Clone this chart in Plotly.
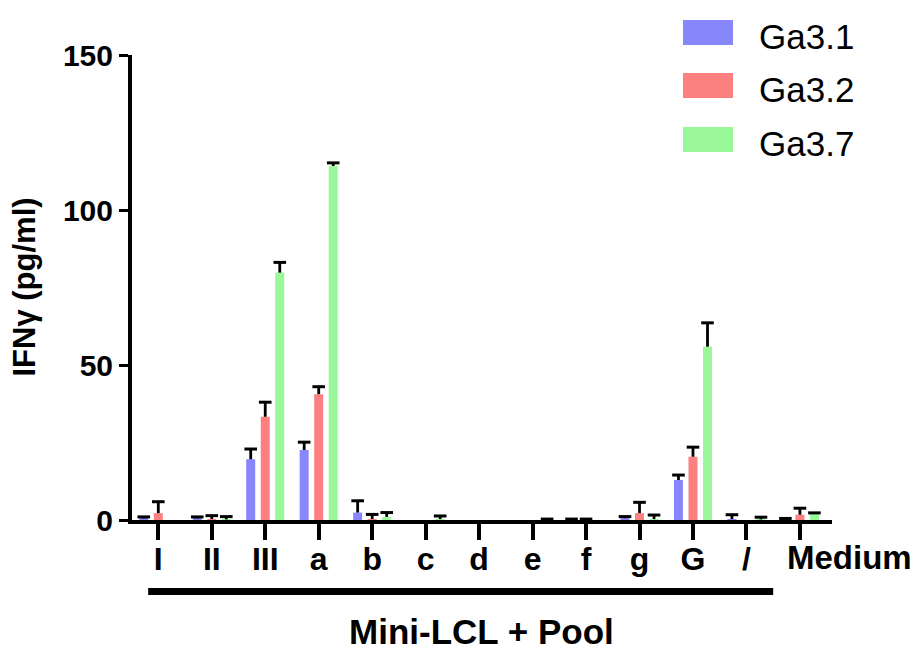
import plotly.graph_objects as go

# Stimulus conditions on the x axis
categories = ["I", "II", "III", "a", "b", "c", "d", "e", "f", "g", "G", "/", "Medium"]

# IFN-gamma release (pg/ml), mean and upper error (SEM) per T-cell clone
ga31 = [0.5, 0.5, 19.6, 22.6, 2.4, 0.0, 0.0, 0.0, 0.1, 0.6, 12.9, 0.3, 0.2]
ga31_err = [0.5, 0.5, 3.3, 2.5, 3.8, None, None, None, 0.2, 0.5, 1.6, 1.4, 0.3]

ga32 = [2.2, 0.3, 33.3, 40.6, 0.3, 0.0, 0.0, 0.0, 0.1, 2.2, 20.4, 0.0, 1.7]
ga32_err = [3.7, 1.1, 4.7, 2.4, 1.5, None, None, None, 0.2, 3.5, 3.1, None, 2.1]

ga37 = [0.0, 0.2, 79.8, 114.2, 1.0, 0.3, 0.0, 0.1, 0.0, 0.3, 55.9, 0.2, 2.0]
ga37_err = [None, 0.9, 3.3, 1.0, 1.4, 1.0, None, 0.2, None, 1.3, 7.7, 0.7, 0.3]

series_names = ["Ga3.1", "Ga3.2", "Ga3.7"]
series_values = [ga31, ga32, ga37]
series_errors = [ga31_err, ga32_err, ga37_err]
series_colors = ["#8787FB", "#FC8080", "#9AF89A"]

y_ticks = [0, 50, 100, 150]
group_label = "Mini-LCL + Pool"
y_label = "IFNγ (pg/ml)"

FONT = "Liberation Sans, Arial, sans-serif"
BAR_GAP = 0.185
x_pos = list(range(len(categories)))

fig = go.Figure()
for k, (name, vals, col) in enumerate(zip(series_names, series_values, series_colors)):
    fig.add_trace(go.Bar(
        x=x_pos, y=vals, name=name, offsetgroup=str(k),
        marker=dict(color=col, line=dict(width=0)),
        showlegend=False,
    ))

# Upper-only error bars: a stem down to the bar top plus a cap marker at mean + SEM
for k, (name, vals, errs) in enumerate(zip(series_names, series_values, series_errors)):
    tops = [v + e if e is not None else None for v, e in zip(vals, errs)]
    stems = [e if e is not None else 0 for e in errs]
    fig.add_trace(go.Scatter(
        x=x_pos, y=tops, mode="markers", offsetgroup=str(k),
        marker=dict(symbol="line-ew", size=9, color="black",
                    line=dict(color="black", width=3)),
        error_y=dict(type="data", symmetric=False, array=[0] * len(stems),
                     arrayminus=stems, color="black", thickness=2.8, width=0),
        showlegend=False, hoverinfo="skip",
    ))

# Tick labels: all but the last come from the axis; "Medium" is set off to the right
ticktext = [c if c != "Medium" else "" for c in categories]

fig.update_layout(
    width=914, height=653,
    margin=dict(l=132, r=82, t=55, b=133),
    paper_bgcolor="white", plot_bgcolor="white",
    barmode="group", bargap=BAR_GAP, bargroupgap=0.38,
    scattermode="group", scattergap=BAR_GAP,
    font=dict(family=FONT, color="black"),
    xaxis=dict(
        range=[-0.492, 12.6], tickvals=x_pos, ticktext=ticktext,
        showline=True, linecolor="black", linewidth=4,
        ticks="outside", ticklen=16, tickwidth=4, tickcolor="black",
        ticklabelstandoff=-8,
        tickfont=dict(size=32, family=FONT, weight="bold", color="black"),
        showgrid=False, zeroline=False,
    ),
    yaxis=dict(
        range=[0, 150], tickvals=y_ticks,
        showline=True, linecolor="black", linewidth=4,
        ticks="outside", ticklen=9, tickwidth=3, tickcolor="black",
        tickfont=dict(size=30, family=FONT, weight="bold", color="black"),
        showgrid=False, zeroline=False,
    ),
)

# "Medium" label
fig.add_annotation(x=categories.index("Medium"), y=0, xref="x", yref="paper",
                   text="Medium", showarrow=False, xanchor="left", yanchor="top",
                   xshift=-15, yshift=-17,
                   font=dict(size=33, family=FONT, weight="bold", color="black"))

# Bracket under the pooled mini-LCL conditions
fig.add_shape(type="line", xref="x", yref="paper",
              x0=-0.19, x1=11.5, y0=-0.154, y1=-0.154,
              line=dict(color="black", width=7))
fig.add_annotation(x=(481 - 132) / 700, y=(520 - 652) / 465, xref="paper", yref="paper",
                   text=group_label, showarrow=False, xanchor="center", yanchor="bottom",
                   borderpad=0,
                   font=dict(size=35, family=FONT, weight="bold", color="black"))

# Y-axis title
fig.add_annotation(x=(24 - 132) / 700, y=0.5, xref="paper", yref="paper",
                   text=y_label, textangle=-90, showarrow=False,
                   xanchor="center", yanchor="middle",
                   font=dict(size=31, family=FONT, weight="bold", color="black"))

# Legend: large swatches with labels, top right
row_top = [20, 73, 127]
for name, col, top in zip(series_names, series_colors, row_top):
    fig.add_shape(type="rect", xref="paper", yref="paper",
                  x0=(683 - 132) / 700, x1=(733 - 132) / 700,
                  y0=(520 - top - 25) / 465, y1=(520 - top) / 465,
                  line=dict(width=0), fillcolor=col)
    fig.add_annotation(x=(757 - 132) / 700, y=(520 - top - 16) / 465,
                       xref="paper", yref="paper", text=name, showarrow=False,
                       xanchor="left", yanchor="middle",
                       font=dict(size=35, family=FONT, color="black"))

fig.write_html("out.html")
